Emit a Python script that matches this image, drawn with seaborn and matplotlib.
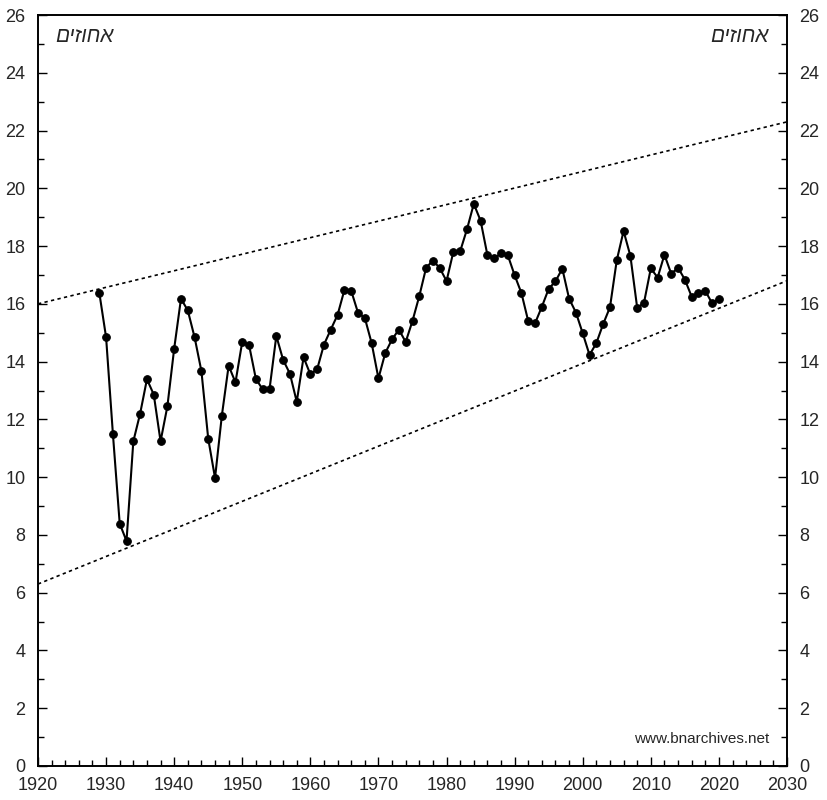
import numpy as np
import pandas as pd
import matplotlib
matplotlib.use("Agg")
import matplotlib.pyplot as plt
from matplotlib.ticker import MultipleLocator
import seaborn as sns

# yearly values (percent)
years = list(range(1929, 2021))
values = [
    16.39, 14.84, 11.50, 8.39, 7.79, 11.24, 12.20, 13.39, 12.86, 11.24,
    12.45, 14.45, 16.18, 15.77, 14.84, 13.67, 11.33, 9.97, 12.13, 13.86,
    13.28, 14.69, 14.57, 13.40, 13.04, 13.04, 14.89, 14.06, 13.58, 12.61,
    14.15, 13.56, 13.74, 14.59, 15.11, 15.62, 16.48, 16.45, 15.69, 15.51,
    14.64, 13.42, 14.30, 14.77, 15.11, 14.68, 15.41, 16.27, 17.25, 17.50,
    17.24, 16.79, 17.80, 17.82, 18.58, 19.46, 18.88, 17.69, 17.57, 17.75,
    17.68, 16.99, 16.37, 15.40, 15.33, 15.90, 16.52, 16.78, 17.22, 16.18,
    15.70, 14.98, 14.23, 14.64, 15.30, 15.88, 17.51, 18.52, 17.66, 15.86,
    16.04, 17.23, 16.91, 17.70, 17.04, 17.25, 16.84, 16.25, 16.37, 16.45,
    16.02, 16.18,
]

# trend channel end points
trend_x = [1920, 2030]
upper_y = [16.0, 22.3]
lower_y = [6.3, 16.8]

unit_label = "םיזוחא"  # "אחוזים" in visual (left-to-right) order
credit = "www.bnarchives.net"

df = pd.DataFrame({"year": years, "value": values})

sns.set_style("ticks")
plt.rcParams["font.family"] = ["Liberation Sans", "DejaVu Sans"]

fig = plt.figure(figsize=(8.28, 8.0), dpi=100)
ax = fig.add_axes([38 / 828, 34 / 800, 749 / 828, 751 / 800])

ax.plot(trend_x, upper_y, color="black", lw=1.2, ls=(0, (2, 2)))
ax.plot(trend_x, lower_y, color="black", lw=1.2, ls=(0, (2, 2)))

sns.lineplot(data=df, x="year", y="value", ax=ax, color="black", lw=1.5,
             marker="o", markersize=5.5, markeredgecolor="black")

ax.set_xlim(1920, 2030)
ax.set_ylim(0, 26)
ax.set_xlabel("")
ax.set_ylabel("")

ax.xaxis.set_major_locator(MultipleLocator(10))
ax.xaxis.set_minor_locator(MultipleLocator(2))
ax.yaxis.set_major_locator(MultipleLocator(2))
ax.yaxis.set_minor_locator(MultipleLocator(1))

ax.tick_params(axis="both", which="both", direction="in", labelsize=13,
               left=True, right=True, labelleft=True, labelright=True,
               bottom=True, top=False, width=1, color="black")
ax.tick_params(which="major", length=6.5)
ax.tick_params(which="minor", length=4.5)
ax.tick_params(axis="y", pad=9)
ax.tick_params(axis="x", pad=8)

for s in ax.spines.values():
    s.set_linewidth(1.4)
    s.set_color("black")

ax.text(0.023, 0.984, unit_label, transform=ax.transAxes, fontsize=15,
        style="italic", ha="left", va="top")
ax.text(0.976, 0.984, unit_label, transform=ax.transAxes, fontsize=15,
        style="italic", ha="right", va="top")
ax.text(0.976, 0.026, credit, transform=ax.transAxes, fontsize=11,
        ha="right", va="bottom")

fig.savefig("out.png", dpi=100)
